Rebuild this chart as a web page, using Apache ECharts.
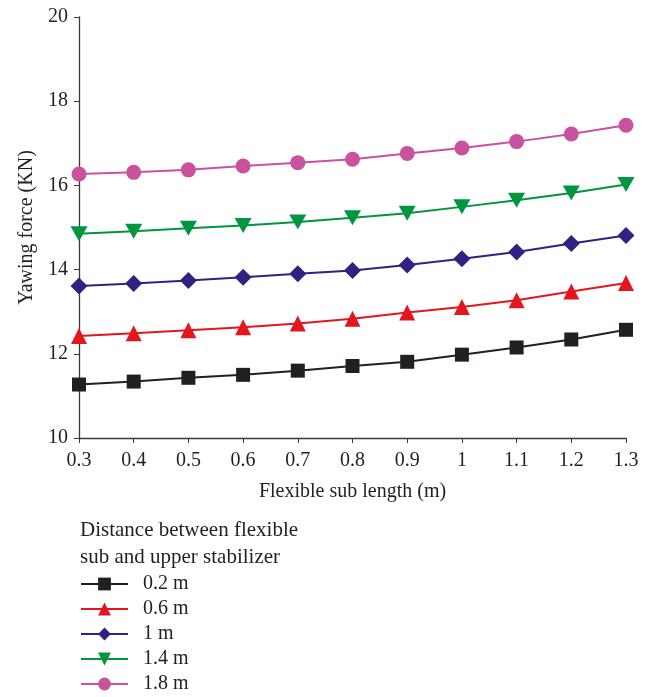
<!DOCTYPE html>
<html>
<head>
<meta charset="utf-8">
<script src="https://cdn.jsdelivr.net/npm/echarts@6/dist/echarts.min.js"></script>
<style>
  html, body { margin: 0; padding: 0; background: #fff; }
  #main { width: 654px; height: 697px; }
</style>
</head>
<body>
<div id="main"></div>
<script>
// 横轴：柔性短节长度 (m)
const lengths = ['0.3', '0.4', '0.5', '0.6', '0.7', '0.8', '0.9', '1', '1.1', '1.2', '1.3'];
// 各距离下的偏转力 (KN)
const force02 = [11.27, 11.34, 11.43, 11.50, 11.60, 11.71, 11.81, 11.98, 12.15, 12.34, 12.57];
const force06 = [12.42, 12.49, 12.56, 12.63, 12.72, 12.83, 12.98, 13.11, 13.27, 13.48, 13.68];
const force10 = [13.61, 13.67, 13.74, 13.82, 13.90, 13.98, 14.11, 14.26, 14.42, 14.62, 14.81];
const force14 = [14.85, 14.91, 14.98, 15.05, 15.13, 15.23, 15.34, 15.49, 15.65, 15.82, 16.02];
const force18 = [16.27, 16.31, 16.37, 16.46, 16.54, 16.62, 16.76, 16.89, 17.04, 17.22, 17.43];
const seriesNames = ['0.2 m', '0.6 m', '1 m', '1.4 m', '1.8 m'];

const serif = 'Liberation Serif';
const axisColor = '#3a3a3a';
const textColor = '#231f20';

function line(name, data, color, symbol, size) {
  return {
    name: name,
    type: 'line',
    data: data,
    symbol: symbol,
    symbolSize: size,
    lineStyle: { color: color, width: 2 },
    itemStyle: { color: color },
    emphasis: { disabled: true }
  };
}

const myChart = echarts.init(document.getElementById('main'));
myChart.setOption({
  animation: false,
  textStyle: { fontFamily: serif },
  grid: { left: 79, right: 28, top: 17, bottom: 259 },
  graphic: [
    {
      type: 'text', left: 80, top: 517,
      style: {
        text: 'Distance between flexible\nsub and upper stabilizer',
        font: '21px "Liberation Serif"', fill: textColor, lineHeight: 27
      }
    }
  ],
  legend: {
    orient: 'vertical',
    left: 80,
    top: 574,
    padding: 0,
    itemWidth: 47,
    itemHeight: 16,
    itemGap: 5,
    data: seriesNames,
    textStyle: { fontFamily: serif, fontSize: 20, color: textColor, padding: [0, 0, 0, 10] }
  },
  xAxis: {
    type: 'category',
    data: lengths,
    boundaryGap: false,
    name: 'Flexible sub length (m)',
    nameLocation: 'middle',
    nameGap: 44,
    nameTextStyle: { fontFamily: serif, fontSize: 20, color: textColor },
    axisLine: { lineStyle: { color: axisColor, width: 1.3 } },
    axisTick: { alignWithLabel: true, length: 5, lineStyle: { color: axisColor } },
    axisLabel: { fontFamily: serif, fontSize: 20, color: textColor, margin: 13 },
    splitLine: { show: false }
  },
  yAxis: {
    type: 'value',
    min: 10,
    max: 20,
    interval: 2,
    name: 'Yawing force (KN)',
    nameLocation: 'middle',
    nameGap: 42,
    nameTextStyle: { fontFamily: serif, fontSize: 20, color: textColor },
    axisLine: { show: true, lineStyle: { color: axisColor, width: 1.3 } },
    axisTick: { show: true, length: 5, lineStyle: { color: axisColor } },
    axisLabel: { fontFamily: serif, fontSize: 20, color: textColor, margin: 11 },
    splitLine: { show: false }
  },
  series: [
    line(seriesNames[0], force02, '#231f20', 'rect', 14),
    line(seriesNames[1], force06, '#e3161e', 'triangle', 16),
    line(seriesNames[2], force10, '#2e2382', 'diamond', 17),
    line(seriesNames[3], force14, '#00963f', 'path://M0,0 L10,0 L5,9 Z', [17, 15]),
    line(seriesNames[4], force18, '#c9529e', 'circle', 15)
  ]
});
</script>
</body>
</html>
